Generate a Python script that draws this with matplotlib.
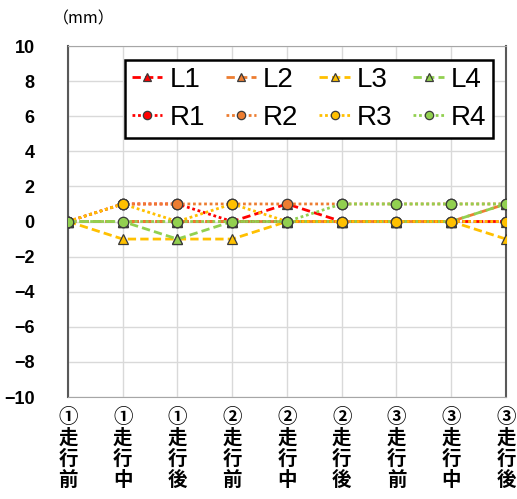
import matplotlib
matplotlib.use("Agg")
import matplotlib.pyplot as plt

plt.rcParams['font.family'] = ['Noto Sans CJK JP', 'DejaVu Sans']

categories = ["①\n走\n行\n前", "①\n走\n行\n中", "①\n走\n行\n後",
              "②\n走\n行\n前", "②\n走\n行\n中", "②\n走\n行\n後",
              "③\n走\n行\n前", "③\n走\n行\n中", "③\n走\n行\n後"]
L1 = [0, 0, 0, 0, 1, 0, 0, 0, 0]
L2 = [0, 0, 0, 0, 0, 0, 0, 0, 1]
L3 = [0, -1, -1, -1, 0, 0, 0, 0, -1]
L4 = [0, 0, -1, 0, 0, 0, 0, 0, 1]
R1 = [0, 1, 1, 0, 0, 0, 0, 0, 0]
R2 = [0, 1, 1, 1, 1, 1, 1, 1, 1]
R3 = [0, 1, 0, 1, 0, 0, 0, 0, 0]
R4 = [0, 0, 0, 0, 0, 1, 1, 1, 1]
yticks = [-10, -8, -6, -4, -2, 0, 2, 4, 6, 8, 10]

colors = {"1": "#FF0000", "2": "#ED7D31", "3": "#FFC000", "4": "#92D050"}

fig = plt.figure(figsize=(5.17, 4.99), dpi=100)
ax = fig.add_axes([0.1315, 0.2044, 0.8472, 0.7034])
x = list(range(len(categories)))

lines = {}
for name, vals in [("L1", L1), ("L2", L2), ("L3", L3), ("L4", L4)]:
    lines[name], = ax.plot(x, vals, linestyle=(0, (3, 1.5)), linewidth=2.0, color=colors[name[1]],
                           marker='^', markersize=7.5, markeredgecolor='#3a3a3a', markeredgewidth=0.9,
                           label=name, zorder=3)
for name, vals in [("R1", R1), ("R2", R2), ("R3", R3), ("R4", R4)]:
    lines[name], = ax.plot(x, vals, linestyle=(0, (1, 1)), linewidth=2.0, color=colors[name[1]],
                           marker='o', markersize=7.5, markeredgecolor='#3a3a3a', markeredgewidth=0.9,
                           label=name, zorder=4)

ax.set_xlim(0, 8)
ax.set_ylim(-10, 10)
ax.set_yticks(yticks)
ax.set_yticklabels([str(v).replace('-', '\u2212') for v in yticks],
                   fontsize=13, fontweight='bold', family=['Liberation Sans', 'DejaVu Sans'])
ax.set_xticks(x)
ax.set_xticklabels(categories, fontsize=14, fontweight='bold', linespacing=1.12)
ax.tick_params(axis='y', length=0, pad=24)
ax.tick_params(axis='x', length=0, pad=8)
ax.grid(True, color='#d9d9d9', linewidth=1)
ax.set_axisbelow(True)
for s in ['top', 'bottom']:
    ax.spines[s].set_color('#a6a6a6')
for s in ['left', 'right']:
    ax.spines[s].set_color('#595959')
    ax.spines[s].set_linewidth(1.5)

fig.text(0.103, 0.962, "（mm）", fontsize=11.5, ha='left', va='center')

order = ["L1", "R1", "L2", "R2", "L3", "R3", "L4", "R4"]
leg = ax.legend([lines[n] for n in order], order, ncol=4, loc='upper left',
                bbox_to_anchor=(0.130, 0.960), borderaxespad=0,
                prop={'family': ['Liberation Sans', 'DejaVu Sans'], 'size': 20},
                frameon=True, fancybox=False, edgecolor='black', framealpha=1,
                handlelength=1.1, handletextpad=0.25, columnspacing=0.75,
                markerscale=0.8, borderpad=0.25, labelspacing=0.42)
leg.get_frame().set_linewidth(1.8)
leg.set_zorder(5)

fig.savefig("out.png", dpi=100)
